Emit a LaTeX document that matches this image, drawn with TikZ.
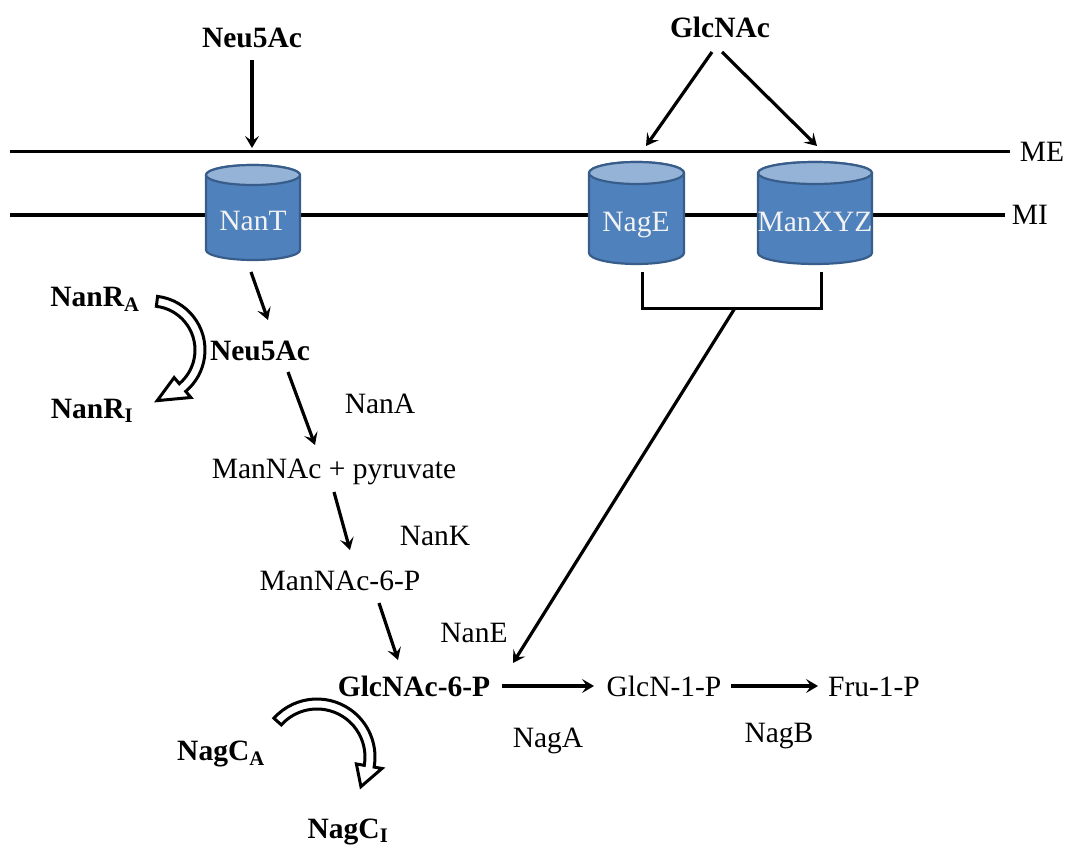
\documentclass[tikz,border=0pt]{standalone}
\usepackage{fontspec}
\setmainfont{Liberation Serif}
\usetikzlibrary{arrows.meta}
\definecolor{cylblue}{HTML}{4F81BD}
\definecolor{cyltopc}{HTML}{95B3D7}
\definecolor{cyledge}{HTML}{385D8A}
\begin{document}
\begin{tikzpicture}[x=1pt,y=-1pt,
  lbl/.style={font=\fontsize{29.5}{34}\selectfont, inner sep=0pt, anchor=base},
  blbl/.style={font=\fontsize{29.5}{34}\selectfont\bfseries, inner sep=0pt, anchor=base},
  cyltext/.style={lbl, text=white!95!black},
  arr/.style={line width=3.2pt, -{Stealth[length=12pt,width=14pt,inset=5pt]}},
  mem/.style={line width=3pt},
  bracket/.style={line width=3pt},
  cylbody/.style={fill=cylblue, draw=cyledge, line width=2.2pt},
  cyltop/.style={fill=cyltopc, draw=cyledge, line width=2.2pt},
  hollow/.style={draw=black, fill=white, line width=3pt, line join=miter}]
\useasboundingbox (0,0) rectangle (1069,848);

% membranes
\coordinate (meL) at (10,152);
\coordinate (meR) at (1010,152);
\coordinate (miL) at (10,215);
\coordinate (miR) at (1005,215);
\draw[mem] (meL) -- (meR);
\draw[mem] (miL) -- (miR);
\node[lbl] (me) at (1042,162) {ME};
\node[lbl] (mi) at (1030,224) {MI};

% cylinders
\newcommand{\cyl}[5]{% xl, xr, yt, yb, ry
  \path[cylbody] (#1,#3) -- (#1,#4) arc[start angle=180,end angle=0,x radius={(#2-#1)/2},y radius=#5]
     -- (#2,#3) arc[start angle=0,end angle=-180,x radius={(#2-#1)/2},y radius=#5] -- cycle;
  \draw[cyltop] ({(#1+#2)/2},#3) ellipse[x radius={(#2-#1)/2},y radius=#5];
}
\cyl{206}{300}{175}{250}{10}
\cyl{589}{684}{173}{253}{11}
\cyl{758}{872}{173}{253}{11}
\node[cyltext] (nant) at (253,230) {NanT};
\node[cyltext] (nage) at (636,232) {NagE};
\node[cyltext] (manxyz) at (815,232) {ManXYZ};

% top substrates
\node[blbl] (neuTop) at (252,48) {Neu5Ac};
\node[blbl] (glcTop) at (720,38) {GlcNAc};
\coordinate (neuOut) at (252,60);
\coordinate (neuIn) at (252,148);
\draw[arr] (neuOut) -- (neuIn);
\coordinate (glcL0) at (712,52);
\coordinate (glcR0) at (722,52);
\coordinate (glcL1) at (646,146);
\coordinate (glcR1) at (817,146);
\draw[arr] (glcL0) -- (glcL1);
\draw[arr] (glcR0) -- (glcR1);

% pathway labels
\node[blbl] (nanRA) at (95,306) {NanR\textsubscript{A}};
\node[blbl] (neuMid) at (260,360) {Neu5Ac};
\node[blbl] (nanRI) at (92,418) {NanR\textsubscript{I}};
\node[lbl] (nanA) at (380,413) {NanA};
\node[lbl] (mannac) at (334,478) {ManNAc + pyruvate};
\node[lbl] (nanK) at (435,545) {NanK};
\node[lbl] (mannac6p) at (340,590) {ManNAc-6-P};
\node[lbl] (nanE) at (474,642) {NanE};
\node[blbl] (glcnac6p) at (414,696) {GlcNAc-6-P};
\node[lbl] (glcn1p) at (664,696) {GlcN-1-P};
\node[lbl] (fru1p) at (874,696) {Fru-1-P};
\node[lbl] (nagA) at (548,747) {NagA};
\node[lbl] (nagB) at (779,742) {NagB};
\node[blbl] (nagCA) at (221,760) {NagC\textsubscript{A}};
\node[blbl] (nagCI) at (348,838) {NagC\textsubscript{I}};

% pathway arrows
\coordinate (a1s) at (251,272); \coordinate (a1e) at (268,320);
\coordinate (a2s) at (288,372); \coordinate (a2e) at (315,445);
\coordinate (a3s) at (334,492); \coordinate (a3e) at (350,550);
\coordinate (a4s) at (379,603); \coordinate (a4e) at (398,660);
\coordinate (a5s) at (502,686); \coordinate (a5e) at (594,686);
\coordinate (a6s) at (731,686); \coordinate (a6e) at (818,686);
\draw[arr] (a1s) -- (a1e);
\draw[arr] (a2s) -- (a2e);
\draw[arr] (a3s) -- (a3e);
\draw[arr] (a4s) -- (a4e);
\draw[arr] (a5s) -- (a5e);
\draw[arr] (a6s) -- (a6e);

% bracket from NagE / ManXYZ
\coordinate (brL) at (642,272);
\coordinate (brR) at (821,272);
\coordinate (brM) at (735,308);
\coordinate (brEnd) at (513,663);
\draw[bracket] (brL) -- (642,308) -- (821,308) -- (brR);
\draw[arr] (brM) -- (brEnd);

% hollow curved arrow NanR
\begin{scope}[shift={(151,350)}]
\draw[hollow] (-83:54) arc[start angle=-83,end angle=50,radius=54]
  -- (50:62) -- (83:51) -- (50:36) -- (50:44)
  arc[start angle=50,end angle=-83,radius=44] -- cycle;
\end{scope}
% hollow curved arrow NagC
\begin{scope}[shift={(317,757)}]
\draw[hollow] (-138:58) arc[start angle=-138,end angle=10,radius=58]
  -- (10:66) -- (34:53) -- (10:40) -- (10:48)
  arc[start angle=10,end angle=-138,radius=48] -- cycle;
\end{scope}
\end{tikzpicture}
\end{document}
